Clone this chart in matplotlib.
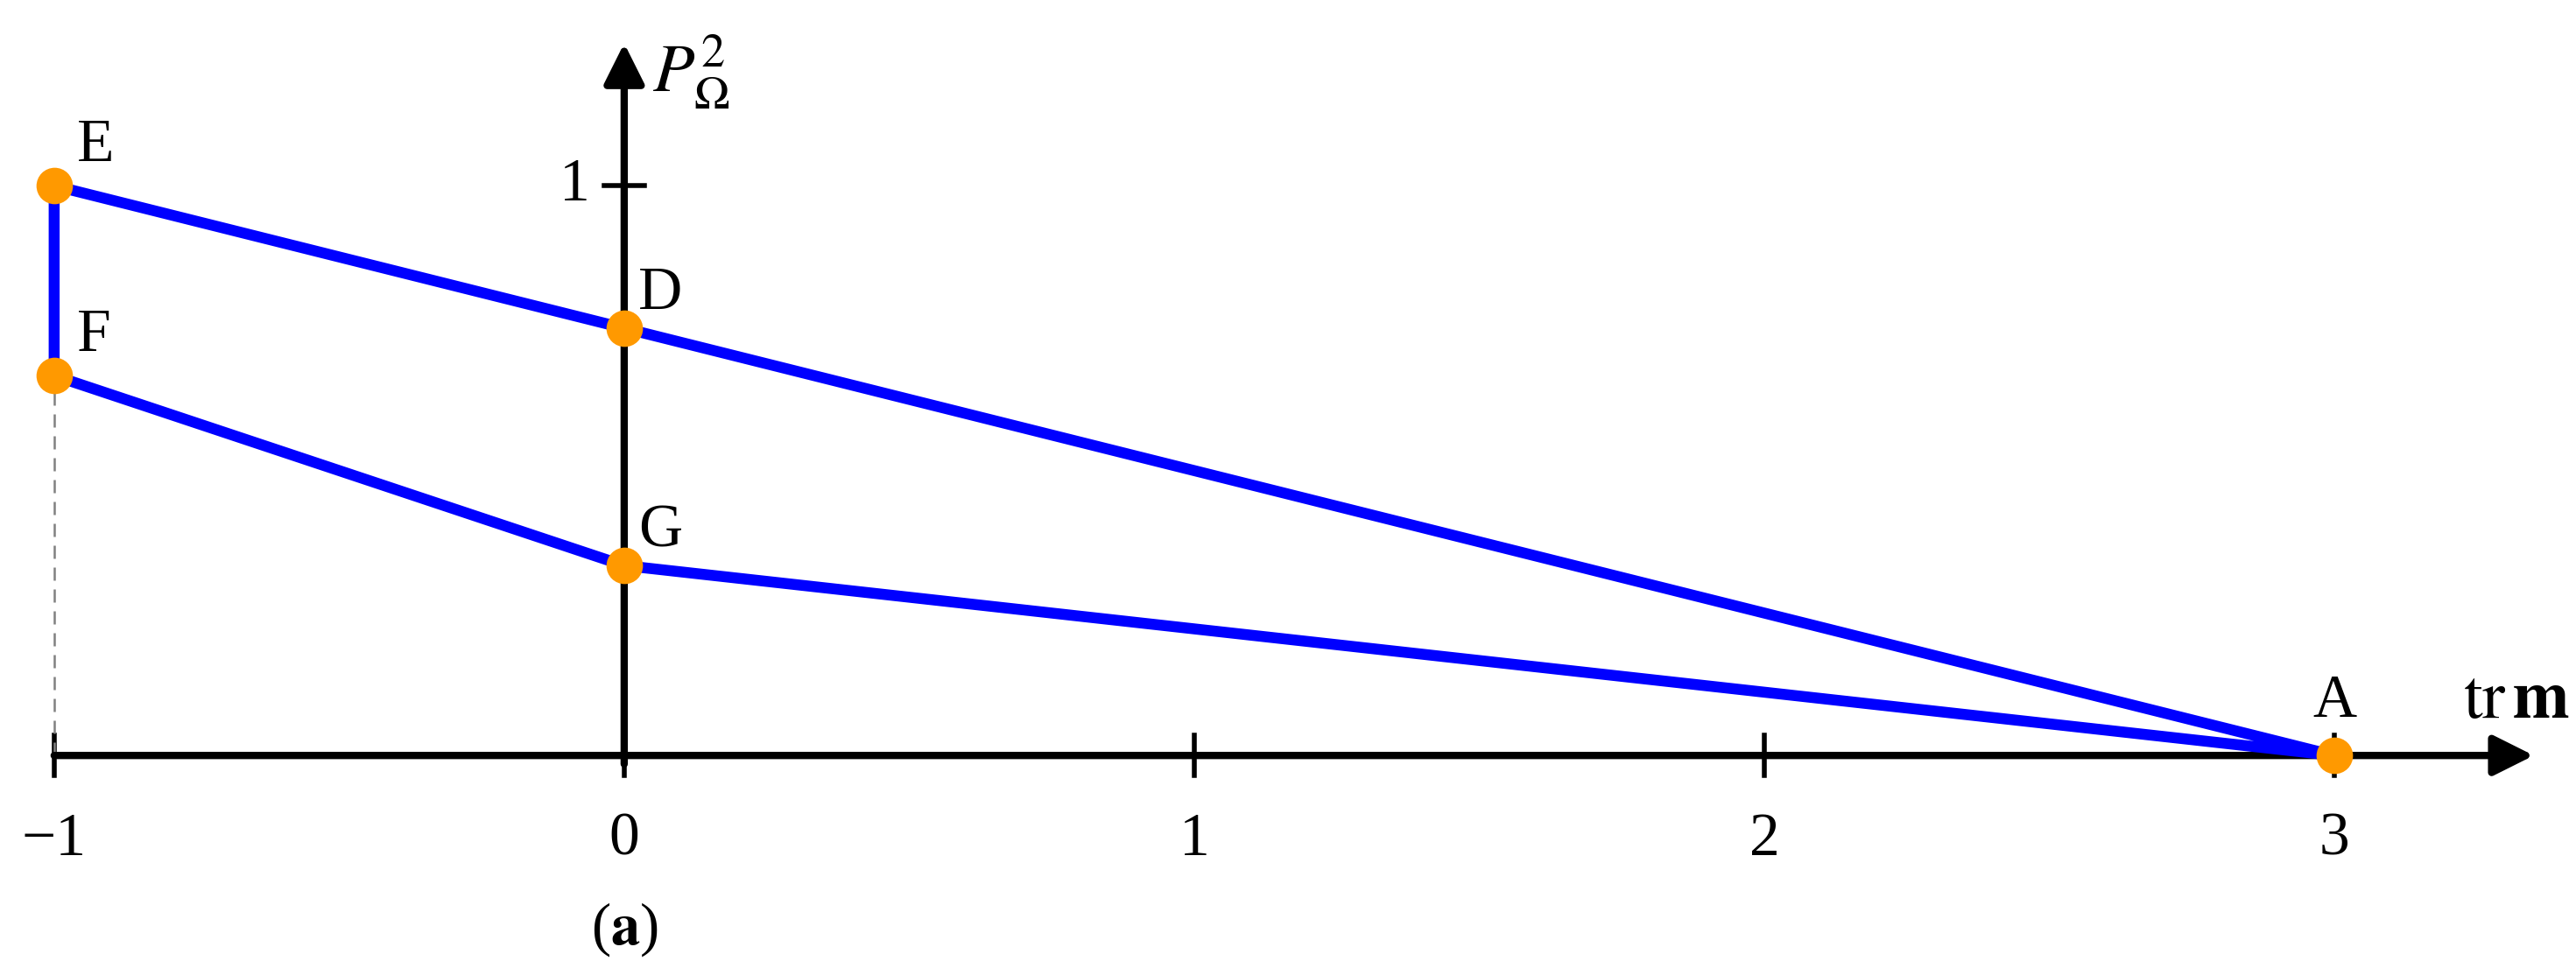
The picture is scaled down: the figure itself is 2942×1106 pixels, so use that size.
import numpy as np
import matplotlib.pyplot as plt

plt.rcParams['font.family'] = ['Liberation Serif', 'DejaVu Serif']
plt.rcParams['mathtext.fontset'] = 'stix'

# polygon points (tr m, P^2)
names = ['E', 'D', 'A', 'G', 'F']
px = [-1, 0, 3, 0, -1]
py = [1.0, 0.75, 0.0, 1/3, 2/3]
xticks = [-1, 0, 1, 2, 3]
yticks = [1]

fig = plt.figure(figsize=(29.42, 11.06), dpi=100)
ax = fig.add_axes([0, 0, 1, 1])
ax.set_xlim(-1.095, 3.424)
ax.set_ylim(-0.373, 1.326)
ax.axis('off')

# axes with arrows
ax.annotate('', xy=(3.35, 0), xytext=(-1, 0),
            arrowprops=dict(arrowstyle='-|>', lw=6, color='k', mutation_scale=70, shrinkA=0, shrinkB=0))
ax.annotate('', xy=(0, 1.25), xytext=(0, -0.015),
            arrowprops=dict(arrowstyle='-|>', lw=6, color='k', mutation_scale=70, shrinkA=0, shrinkB=0))

for t in xticks:
    ax.plot([t, t], [-0.035, 0.035], color='k', lw=4)
    ax.text(t, -0.1, '\u2212%d' % -t if t < 0 else str(t), ha='center', va='top', fontsize=50)
for t in yticks:
    ax.plot([-0.035, 0.035], [t, t], color='k', lw=4)
    ax.text(-0.06, t, str(t), ha='right', va='center', fontsize=50)

# dashed guide from F
ax.plot([-1, -1], [0, py[4]], color='gray', lw=1.8, ls=(0, (6, 4)))

# polygon
ax.plot(px + [px[0]], py + [py[0]], color='#0000ff', lw=9, solid_joinstyle='round', zorder=3)
ax.plot(px, py, 'o', color='#ff9900', ms=30, mec='none', zorder=4)

offs = {'E': (0.04, 0.02), 'D': (0.025, 0.01), 'A': (0.0, 0.045), 'G': (0.025, 0.01), 'F': (0.04, 0.02)}
for n, x, y in zip(names, px, py):
    dx, dy = offs[n]
    ha = 'center' if n == 'A' else 'left'
    ax.text(x + dx, y + dy, n, ha=ha, va='bottom', fontsize=50)

ax.text(0.05, 1.2, r'$P_{\Omega}^{2}$', ha='left', va='center', fontsize=56)
ax.text(3.32, 0.04, r'$\mathrm{tr}\,\mathbf{m}$', ha='center', va='bottom', fontsize=56)
ax.text(0, -0.305, r'($\mathbf{a}$)', ha='center', va='center', fontsize=48)

fig.savefig('out.png', dpi=100)
